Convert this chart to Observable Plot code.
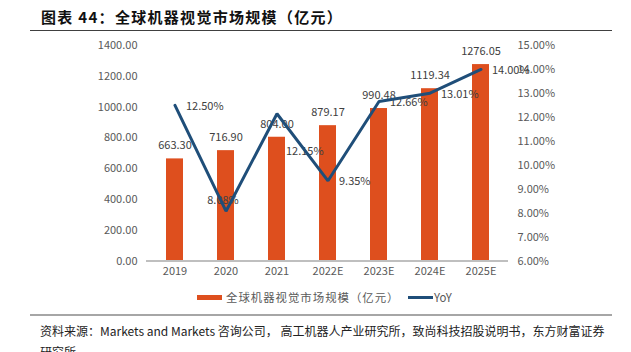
<!DOCTYPE html>
<html><head><meta charset="utf-8">
<script src="https://cdn.jsdelivr.net/npm/d3@7"></script>
<script src="https://cdn.jsdelivr.net/npm/@observablehq/plot@0.6"></script>
<style>
body{margin:0;background:#fff;font-family:"Noto Sans CJK SC",sans-serif;}
#wrap{position:relative;width:631px;height:352px;overflow:hidden;background:#fff;}
#chart{position:absolute;left:0;top:0;}
#title{position:absolute;left:41px;top:7px;font-size:15px;line-height:20px;font-weight:bold;color:#111;white-space:nowrap;letter-spacing:1.3px;}
#rule1{position:absolute;left:30px;top:30px;width:582px;height:0;border-top:1.5px solid #404040;}
#legend{position:absolute;left:197px;top:289px;height:16px;font-size:11.4px;line-height:16px;color:#595959;white-space:nowrap;}
#legend .sw{position:absolute;top:6px;height:5px;width:25px;}
#legend .tx{position:absolute;top:0;}
#rule2{position:absolute;left:30px;top:314px;width:582px;height:0;border-top:2px solid #A6A6A6;}
#caption{position:absolute;left:40px;top:320px;font-size:12px;line-height:21px;color:#222;white-space:nowrap;}
</style>
</head><body>
<div id="wrap">
  <div id="chart"></div>
  <div id="title">图表 44：全球机器视觉市场规模（亿元）</div>
  <div id="rule1"></div>
  <div id="legend"></div>
  <div id="rule2"></div>
  <div id="caption"></div>
</div>
<script>
const years = ["2019","2020","2021","2022E","2023E","2024E","2025E"];
const marketSize = [663.30, 716.90, 804.00, 879.17, 990.48, 1119.34, 1276.05];
const yoy = [12.50, 8.08, 12.15, 9.35, 12.66, 13.01, 14.00];
const leftTicks = [0, 200, 400, 600, 800, 1000, 1200, 1400];
const rightTicks = [6, 7, 8, 9, 10, 11, 12, 13, 14, 15];
const yoyLabelPos = ["right","above","below","right","right","right","right"];
const seriesNames = ["全球机器视觉市场规模（亿元）", "YoY"];
const captionLines = ["资料来源：Markets and Markets 咨询公司， 高工机器人产业研究所，致尚科技招股说明书，东方财富证券", "研究所"];

const BAR = "#DE4F1E", LINE = "#1F4E79";
const leftMax = 1400, rMin = 6, rMax = 15;
const toLeft = p => (p - rMin) / (rMax - rMin) * leftMax;
const fromLeft = v => v / leftMax * (rMax - rMin) + rMin;

const table = years.map((y, i) => ({year: y, value: marketSize[i], yoy: yoy[i], pos: yoyLabelPos[i]}));

const yoyText = (pos, opts) => Plot.text(table.filter(d => d.pos === pos), {
  x: "year", y: d => toLeft(d.yoy), text: d => d.yoy.toFixed(2) + "%",
  fill: "#404040", fontSize: 11, ...opts
});

const chart = Plot.plot({
  width: 631, height: 290,
  marginLeft: 146, marginRight: 123, marginTop: 45, marginBottom: 29.5,
  style: {fontFamily: '"Noto Sans CJK SC", sans-serif', fontSize: "11px", background: "transparent"},
  x: {domain: years, paddingInner: 0.671, paddingOuter: 0.336, label: null},
  y: {domain: [0, leftMax], label: null},
  marks: [
    Plot.barY(table, {x: "year", y: "value", fill: BAR}),
    Plot.ruleY([0], {stroke: "#BFBFBF", strokeWidth: 2}),
    Plot.axisX({tickSize: 0, tickPadding: 6, fill: "#595959", fontSize: 11, label: null}),
    Plot.axisY({ticks: leftTicks, anchor: "left", tickSize: 0, tickPadding: 9, fill: "#595959", fontSize: 11,
      tickFormat: d => d.toFixed(2), label: null}),
    Plot.axisY({ticks: rightTicks.map(toLeft), anchor: "right", tickSize: 0, tickPadding: 9, fill: "#595959", fontSize: 11,
      tickFormat: d => fromLeft(d).toFixed(2) + "%", label: null}),
    Plot.text(table, {x: "year", y: "value", text: d => d.value.toFixed(2), dy: -13, fill: "#404040", fontSize: 11}),
    yoyText("right", {textAnchor: "start", dx: 11, dy: 1}),
    yoyText("above", {dx: -3, dy: -11}),
    yoyText("below", {textAnchor: "start", dx: 9, dy: 38}),
    Plot.line(table, {x: "year", y: d => toLeft(d.yoy), stroke: LINE, strokeWidth: 3, strokeLinejoin: "miter"})
  ]
});
document.getElementById("chart").appendChild(chart);

const legend = document.getElementById("legend");
legend.innerHTML =
  `<div class="sw" style="left:0;background:${BAR}"></div>` +
  `<div class="tx" style="left:29px;letter-spacing:1px">${seriesNames[0]}</div>` +
  `<div class="sw" style="left:211px;top:7px;height:3px;background:${LINE}"></div>` +
  `<div class="tx" style="left:237px">${seriesNames[1]}</div>`;

document.getElementById("caption").innerHTML = captionLines.join("<br>");
</script>
</body></html>
